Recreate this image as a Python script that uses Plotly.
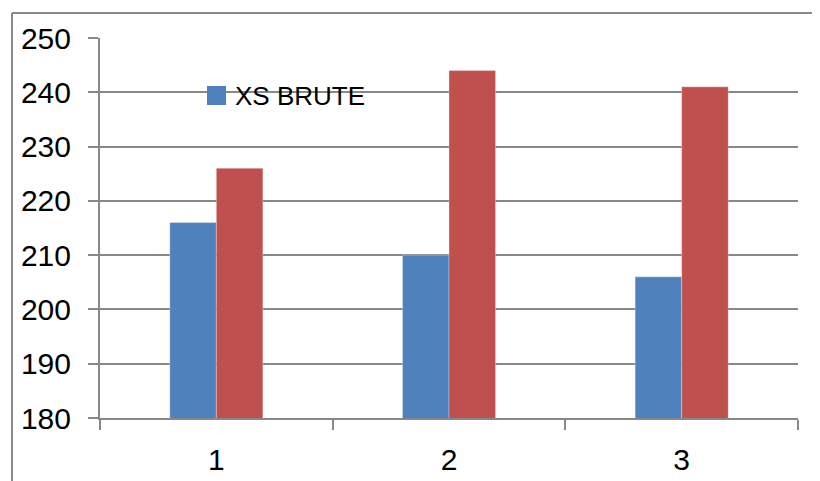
import plotly.graph_objects as go

categories = ["1", "2", "3"]
xs_brute = [216, 210, 206]
series2 = [226, 244, 241]
y_ticks = [180, 190, 200, 210, 220, 230, 240, 250]

# page is offset by the 8px body margin; compensate
OFF = 8
W, H = 820, 481
L, T = 100 - OFF, 38 - OFF
R = W - (798 - OFF)
B = H - (418 - OFF)
pw, ph = W - L - R, H - T - B

def px_x(p):  # page pixel -> paper x
    return (p - OFF - L) / pw

def px_y(p):  # page pixel -> paper y
    return 1 - (p - OFF - T) / ph

fig = go.Figure()
fig.add_trace(go.Bar(x=categories, y=xs_brute, name="XS BRUTE", showlegend=False,
                     marker=dict(color="#4F81BD", line=dict(width=0.6, color="rgba(255,255,255,0.5)"))))
fig.add_trace(go.Bar(x=categories, y=series2, name="Series 2", showlegend=False,
                     marker=dict(color="#C0504D", line=dict(width=0.6, color="rgba(255,255,255,0.5)"))))

font = "Liberation Sans, Arial, sans-serif"
fig.update_layout(
    width=W, height=H,
    margin=dict(l=L, r=R, t=T, b=B),
    paper_bgcolor="white", plot_bgcolor="white",
    barmode="group", bargap=0.6, bargroupgap=0,
    font=dict(family=font, size=30, color="black"),
    xaxis=dict(type="category", tickson="boundaries", ticks="outside", ticklen=10,
               tickcolor="#888888", tickwidth=1.5, showline=True, linecolor="#888888",
               linewidth=2, showgrid=False, ticklabelstandoff=14,
               tickfont=dict(size=30, family=font)),
    yaxis=dict(range=[180, 250], tickvals=y_ticks, ticks="outside", ticklen=10,
               tickcolor="#888888", tickwidth=1.5, showline=True, linecolor="#888888",
               linewidth=2, showgrid=True, gridcolor="#888888", gridwidth=1.5,
               zeroline=False, ticklabelstandoff=11,
               tickfont=dict(size=30, family=font)),
)

# legend entry (drawn manually to match the large square marker)
fig.add_shape(type="rect", xref="paper", yref="paper",
              x0=px_x(207), x1=px_x(226), y0=px_y(105), y1=px_y(86),
              fillcolor="#4F81BD", line=dict(width=0))
fig.add_annotation(xref="paper", yref="paper", x=px_x(233), y=px_y(96),
                   xanchor="left", yanchor="middle", showarrow=False,
                   text="XS BRUTE", font=dict(size=26, family=font, color="black"))

# outer chart frame (left and top edges)
x0 = px_x(12)
y0 = px_y(13)
fig.add_shape(type="line", xref="paper", yref="paper", x0=x0, x1=x0, y0=y0, y1=-0.5,
              line=dict(color="#888888", width=2))
fig.add_shape(type="line", xref="paper", yref="paper", x0=x0, x1=1.2, y0=y0, y1=y0,
              line=dict(color="#888888", width=2))

fig.write_html("out.html")
